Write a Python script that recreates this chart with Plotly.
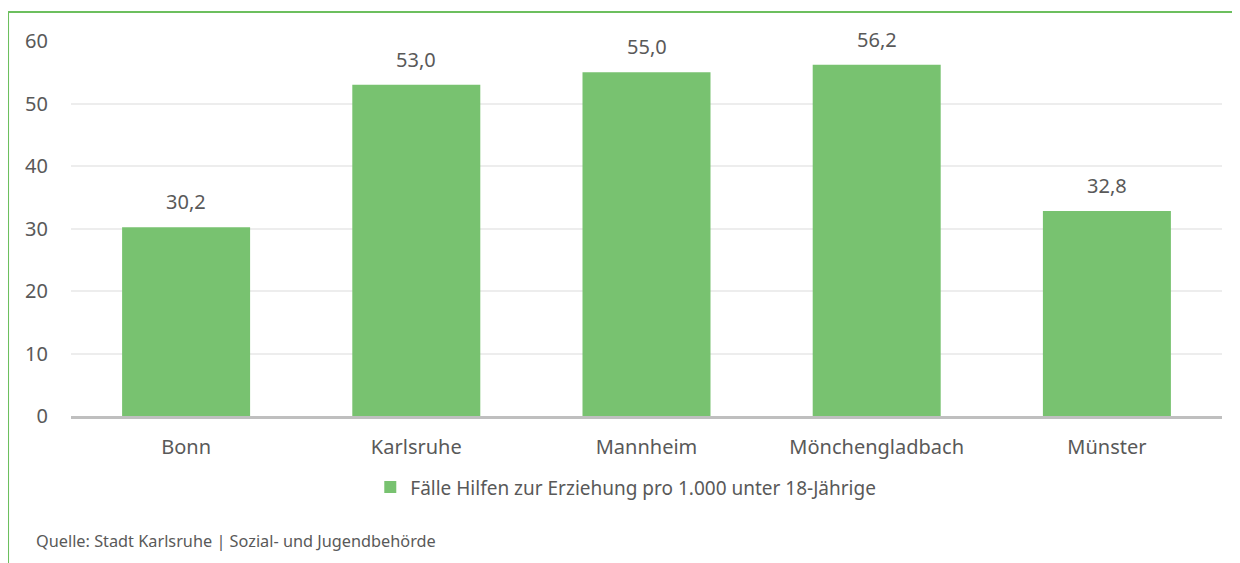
import plotly.graph_objects as go

staedte = ["Bonn", "Karlsruhe", "Mannheim", "Mönchengladbach", "Münster"]
faelle = [30.2, 53.0, 55.0, 56.2, 32.8]
y_ticks = [0, 10, 20, 30, 40, 50, 60]
serie_name = "Fälle Hilfen zur Erziehung pro 1.000 unter 18-Jährige"
quelle = "Quelle: Stadt Karlsruhe | Sozial- und Jugendbehörde"

GRUEN = "#78C270"
GRAU = "#595959"
FONT = "Noto Sans"

fig = go.Figure()
fig.add_trace(go.Bar(x=staedte, y=faelle, name=serie_name,
                     marker=dict(color=GRUEN, line=dict(width=0)),
                     showlegend=True))

# Datenbeschriftungen über den Balken
for s, v in zip(staedte, faelle):
    fig.add_annotation(x=s, y=v, text=f"{v:.1f}".replace(".", ","),
                       showarrow=False, yanchor="bottom", yshift=10,
                       font=dict(family=FONT, size=20, color=GRAU))

fig.add_annotation(xref="paper", yref="paper", x=-0.032, y=-0.333,
                   xanchor="left", yanchor="middle", text=quelle,
                   showarrow=False, font=dict(family=FONT, size=16.3, color=GRAU))

# grüner Rahmen oben und links
rahmen = dict(color="#6CBF5E", width=2)
fig.add_shape(type="line", xref="paper", yref="paper",
              x0=-0.0547, x1=1.03, y0=1.0773, y1=1.0773, line=rahmen)
fig.add_shape(type="line", xref="paper", yref="paper",
              x0=-0.0547, x1=-0.0547, y0=1.0773, y1=-0.42, line=rahmen)

fig.update_layout(
    width=1240, height=563,
    margin=dict(l=63, r=26, t=33, b=155),
    paper_bgcolor="white", plot_bgcolor="white",
    bargap=0.444,
    font=dict(family=FONT, size=20, color=GRAU),
    legend=dict(orientation="h", x=0.482, xanchor="center", y=-0.19,
                yanchor="middle", font=dict(size=19, color=GRAU),
                itemwidth=30),
    xaxis=dict(showgrid=False, showline=True, linecolor="#BFBFBF",
               linewidth=3, ticks="", ticklabelstandoff=11),
    yaxis=dict(range=[0, 60], tickvals=y_ticks, showgrid=True,
               gridcolor="#EDEDED", gridwidth=2, zeroline=False,
               showline=False, ticks="", ticklabelstandoff=22),
)

fig.write_html("out.html")
